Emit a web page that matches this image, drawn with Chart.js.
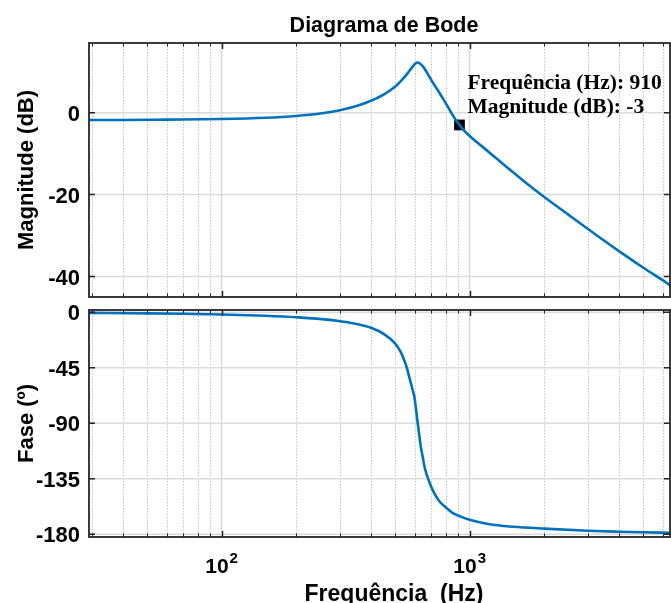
<!DOCTYPE html>
<html>
<head>
<meta charset="utf-8">
<script src="https://cdn.jsdelivr.net/npm/chart.js@4/dist/chart.umd.min.js"></script>
<style>
html,body{margin:0;padding:0;background:#fff;overflow:hidden;width:671px;height:603px}
#top{position:absolute;left:0;top:0;width:671px;height:300px}
#bot{position:absolute;left:0;top:270px;width:671px;height:333px}
</style>
</head>
<body>
<div id="top"><canvas id="c1"></canvas></div>
<div id="bot"><canvas id="c2"></canvas></div>
<script>
// ---- data ----
const FREQ_MAG = [29.2, 40, 60, 100, 150, 200, 250, 300, 350, 400, 450, 500, 530, 562, 590, 605, 616, 630, 645, 660, 680, 711, 745, 780, 810, 845, 875, 910, 950, 1000, 1200, 1413, 1700, 2000, 2500, 3000, 4000, 5000, 6000, 6424];
const MAG_DB   = [-1.8, -1.8, -1.7, -1.55, -1.25, -0.8, -0.2, 0.6, 1.6, 2.9, 4.4, 6.3, 7.8, 9.6, 11.3, 12.0, 12.2, 12.0, 11.4, 10.6, 9.3, 7.3, 5.4, 3.5, 1.8, -0.1, -1.6, -3.0, -4.4, -5.7, -9.7, -13.3, -17.3, -20.6, -24.9, -28.4, -33.8, -37.8, -40.9, -42.1];

const FREQ_PH  = [29.2, 50, 70, 100, 150, 200, 274, 300, 350, 400, 450, 500, 525, 541, 558, 575, 590, 600, 607, 614, 624, 634, 645, 660, 680, 700, 730, 758, 800, 850, 900, 1000, 1200, 1500, 2000, 3000, 4000, 5000, 6424];
const PHASE    = [-0.5, -0.9, -1.3, -1.8, -2.9, -4.1, -6.2, -7.3, -9.5, -12.6, -17.5, -25.2, -31.5, -37.4, -45, -55, -63.5, -69.8, -77.5, -86, -97, -107.7, -116, -126.6, -135, -141.5, -149, -153.7, -158.2, -162.5, -165, -168.4, -172, -174, -175.5, -177.2, -178, -178.5, -178.9];

const MARK_FREQ = [910];
const MARK_MAG  = [-3];

const MAG_TICKS   = [-40, -20, 0];
const PHASE_TICKS = [-180, -135, -90, -45, 0];
const X_MAJOR     = [100, 1000];
const X_MAJOR_EXP = [2, 3];
const X_MINOR     = [30, 40, 50, 60, 70, 80, 90, 200, 300, 400, 500, 600, 700, 800, 900, 2000, 3000, 4000, 5000, 6000];

const TITLE   = 'Diagrama de Bode';
const Y1_TEXT = 'Magnitude (dB)';
const Y2_TEXT = 'Fase (º)';
const X_TEXT  = 'Frequência  (Hz)';
const NOTE    = ['Frequência (Hz): 910', 'Magnitude (dB): -3'];

const FMIN = 29.2, FMAX = 6424;
// ---------------------------------------

const FONT = '"Liberation Sans", Arial, Helvetica, sans-serif';
const BLUE = '#0072BD';
Chart.defaults.font.family = FONT;

const frame = {
  id: 'bodeFrame',
  beforeDatasetsDraw(chart, args, o) {
    const {ctx, chartArea: a, scales: {x, y}} = chart;
    ctx.save();
    ctx.beginPath(); ctx.rect(a.left, a.top, a.right - a.left, a.bottom - a.top); ctx.clip();
    ctx.lineWidth = 1;
    ctx.strokeStyle = '#c4c4c4';
    ctx.setLineDash([1.5, 1.5]);
    for (const v of X_MINOR) {
      const px = Math.round(x.getPixelForValue(v)) + 0.5;
      ctx.beginPath(); ctx.moveTo(px, a.top); ctx.lineTo(px, a.bottom); ctx.stroke();
    }
    ctx.setLineDash([]);
    ctx.strokeStyle = '#dcdcdc';
    ctx.lineWidth = 1.5;
    for (const v of X_MAJOR) {
      const px = x.getPixelForValue(v);
      ctx.beginPath(); ctx.moveTo(px, a.top); ctx.lineTo(px, a.bottom); ctx.stroke();
    }
    for (const v of o.yTicks) {
      const py = y.getPixelForValue(v);
      ctx.beginPath(); ctx.moveTo(a.left, py); ctx.lineTo(a.right, py); ctx.stroke();
    }
    ctx.restore();
  },
  afterDatasetsDraw(chart, args, o) {
    const {ctx, chartArea: a, scales: {x, y}} = chart;
    ctx.save();
    ctx.strokeStyle = '#262626';
    const tick = (v, len) => {
      const px = Math.round(x.getPixelForValue(v)) + 0.5;
      ctx.beginPath();
      ctx.moveTo(px, a.bottom); ctx.lineTo(px, a.bottom - len);
      ctx.moveTo(px, a.top); ctx.lineTo(px, a.top + len);
      ctx.stroke();
    };
    ctx.lineWidth = 1.5;
    X_MAJOR.forEach(v => tick(v, 6));
    ctx.lineWidth = 1;
    X_MINOR.forEach(v => tick(v, 3.5));
    ctx.lineWidth = 1.5;
    for (const v of o.yTicks) {
      const py = y.getPixelForValue(v);
      ctx.beginPath();
      ctx.moveTo(a.left, py); ctx.lineTo(a.left + 6, py);
      ctx.moveTo(a.right, py); ctx.lineTo(a.right - 6, py);
      ctx.stroke();
    }
    ctx.lineWidth = 1.8;
    ctx.strokeRect(a.left, a.top, a.right - a.left, a.bottom - a.top);
    ctx.restore();
  },
  afterDraw(chart, args, o) {
    const {ctx, scales: {x, y}} = chart;
    ctx.save();
    ctx.fillStyle = '#000';
    ctx.textBaseline = 'alphabetic';
    if (o.title) {
      ctx.font = 'bold 21.5px ' + FONT;
      ctx.textAlign = 'center';
      ctx.fillText(TITLE, 384, 31.5);
    }
    if (o.note) {
      const mx = x.getPixelForValue(MARK_FREQ[0]);
      const my = y.getPixelForValue(MARK_MAG[0]);
      ctx.font = 'bold 21.5px "Liberation Serif", "Times New Roman", serif';
      ctx.textAlign = 'left';
      ctx.fillText(NOTE[0], mx + 8, my - 36);
      ctx.fillText(NOTE[1], mx + 8, my - 11.5);
    }
    if (o.xLabels) {
      ctx.textAlign = 'left';
      X_MAJOR.forEach((v, i) => {
        const px = x.getPixelForValue(v);
        const b = '10', e = String(X_MAJOR_EXP[i]);
        ctx.font = 'bold 21px ' + FONT; const wb = ctx.measureText(b).width;
        ctx.font = 'bold 15px ' + FONT; const we = ctx.measureText(e).width;
        const x0 = px - (wb + we + 1) / 2;
        ctx.font = 'bold 21px ' + FONT; ctx.fillText(b, x0, 303);
        ctx.font = 'bold 15px ' + FONT; ctx.fillText(e, x0 + wb + 1, 293);
      });
      ctx.font = 'bold 23px ' + FONT;
      ctx.textAlign = 'center';
      ctx.fillText(X_TEXT, 394, 331);
    }
    ctx.restore();
  }
};

function yAxis(min, max, ticks, title) {
  return {
    min, max,
    afterBuildTicks: s => { s.ticks = ticks.map(v => ({value: v})); },
    afterFit: s => { s.width = 89; s.paddingTop = 0; s.paddingBottom = 0; },
    grid: {display: false, drawTicks: false},
    border: {display: false},
    ticks: {color: '#000', padding: 9, labelOffset: 2, font: {size: 22, weight: 'bold'}, callback: v => String(v)},
    title: {display: true, text: title, color: '#000', font: {size: 22, weight: 'bold', lineHeight: 1.2}, padding: {top: 14, bottom: 0}}
  };
}
function xAxis() {
  return {
    type: 'logarithmic', min: FMIN, max: FMAX,
    afterBuildTicks: s => { s.ticks = X_MAJOR.concat(X_MINOR).sort((a, b) => a - b).map(v => ({value: v})); },
    afterFit: s => { s.height = 0; s.paddingLeft = 0; s.paddingRight = 0; },
    ticks: {display: false},
    grid: {display: false, drawTicks: false},
    border: {display: false}
  };
}

new Chart(document.getElementById('c1'), {
  type: 'line',
  data: {
    datasets: [
      {data: FREQ_MAG.map((f, i) => ({x: f, y: MAG_DB[i]})), borderColor: BLUE, borderWidth: 2.6, pointRadius: 0, cubicInterpolationMode: 'monotone', fill: false},
      {data: MARK_FREQ.map((f, i) => ({x: f, y: MARK_MAG[i]})), showLine: false, pointStyle: 'rect', pointRadius: 7.6, pointBackgroundColor: '#000', pointBorderColor: '#000', pointBorderWidth: 0}
    ]
  },
  options: {
    responsive: true, maintainAspectRatio: false, animation: false, devicePixelRatio: 1,
    layout: {autoPadding: false, padding: {left: 0, right: 1, top: 43, bottom: 3}},
    scales: {x: xAxis(), y: yAxis(-45, 17, MAG_TICKS, Y1_TEXT)},
    plugins: {
      legend: {display: false}, tooltip: {enabled: false}, title: {display: false},
      bodeFrame: {yTicks: MAG_TICKS, note: true, title: true}
    }
  },
  plugins: [frame]
});

new Chart(document.getElementById('c2'), {
  type: 'line',
  data: {
    datasets: [
      {data: FREQ_PH.map((f, i) => ({x: f, y: PHASE[i]})), borderColor: BLUE, borderWidth: 2.6, pointRadius: 0, cubicInterpolationMode: 'monotone', fill: false}
    ]
  },
  options: {
    responsive: true, maintainAspectRatio: false, animation: false, devicePixelRatio: 1,
    layout: {autoPadding: false, padding: {left: 0, right: 1, top: 40, bottom: 66}},
    scales: {x: xAxis(), y: yAxis(-182.3, 1.8, PHASE_TICKS, Y2_TEXT)},
    plugins: {
      legend: {display: false}, tooltip: {enabled: false}, title: {display: false},
      bodeFrame: {yTicks: PHASE_TICKS, xLabels: true}
    }
  },
  plugins: [frame]
});
</script>
</body>
</html>
